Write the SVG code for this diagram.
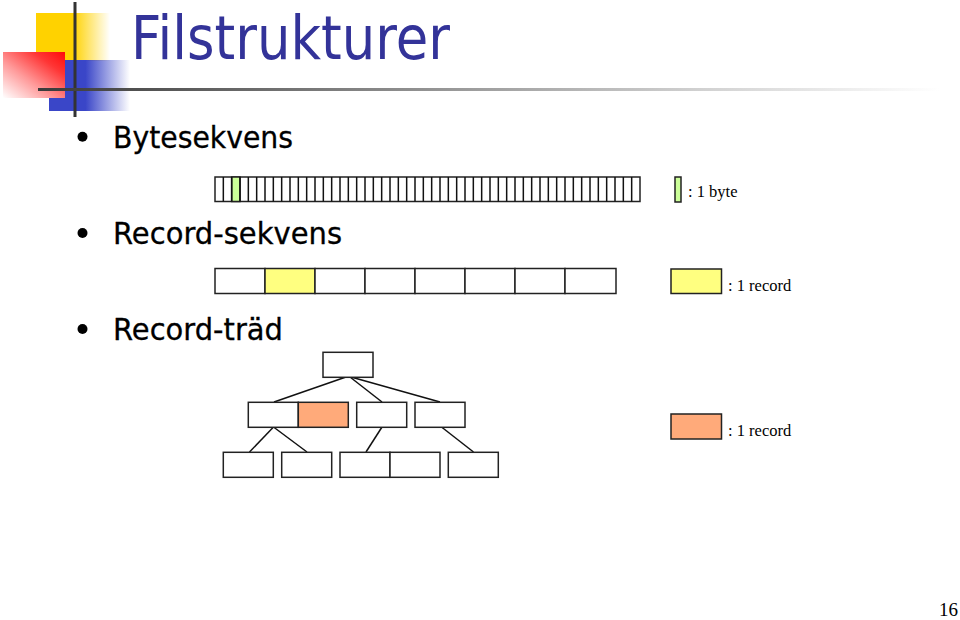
<svg xmlns="http://www.w3.org/2000/svg" width="960" height="620" viewBox="0 0 960 620">
<defs>
<linearGradient id="gYellow" x1="0" y1="0" x2="1" y2="0">
<stop offset="0" stop-color="#FFD200"/>
<stop offset="0.5" stop-color="#FFD200"/>
<stop offset="1" stop-color="#FFD200" stop-opacity="0"/>
</linearGradient>
<linearGradient id="gBlue" x1="0" y1="0" x2="1" y2="0">
<stop offset="0" stop-color="#3A46C8"/>
<stop offset="0.45" stop-color="#3A46C8"/>
<stop offset="1" stop-color="#3A46C8" stop-opacity="0"/>
</linearGradient>
<linearGradient id="gRed" x1="1" y1="0" x2="0" y2="1">
<stop offset="0" stop-color="#FF0A0A"/>
<stop offset="0.25" stop-color="#FF3535"/>
<stop offset="0.6" stop-color="#FF9A9A"/>
<stop offset="1" stop-color="#FFFFFF"/>
</linearGradient>
<linearGradient id="gLine" x1="0" y1="0" x2="1" y2="0">
<stop offset="0" stop-color="#3A3A3A"/>
<stop offset="0.4" stop-color="#8C8C8C"/>
<stop offset="0.73" stop-color="#D0D0D0"/>
<stop offset="1" stop-color="#FFFFFF"/>
</linearGradient>
<style>
.box{stroke:#222;stroke-width:1.5;fill:#fff}
.yel{fill:#FFFF80}
.ora{fill:#FFAA7A}
.grn{fill:#CCFF99}
.edge{stroke:#111;stroke-width:1.5;fill:none}
.bullet{font-family:"DejaVu Sans","Liberation Sans",sans-serif;font-size:30px;fill:#000;stroke:#000;stroke-width:0.3}
.legend{font-family:"Liberation Serif","Times New Roman",serif;font-size:16.5px;fill:#000}
</style>
</defs>
<rect width="960" height="620" fill="#fff"/>

<g id="logo">
<rect x="36" y="13" width="74" height="48" fill="url(#gYellow)"/>
<rect x="49" y="60" width="81" height="51" fill="url(#gBlue)"/>
<rect x="3" y="52" width="62" height="46" fill="url(#gRed)"/>
<rect x="73.5" y="2" width="3" height="115" fill="#333"/>
<rect x="38" y="88" width="902" height="3" fill="url(#gLine)"/>
</g>

<g id="title">
<text x="131" y="59" font-family="DejaVu Sans,Liberation Sans,sans-serif" font-size="61" fill="#333399" textLength="319" lengthAdjust="spacingAndGlyphs">Filstrukturer</text>
</g>

<g id="bullets">
<circle cx="82.5" cy="136.7" r="5"/>
<text class="bullet" x="113" y="147.5" textLength="180" lengthAdjust="spacingAndGlyphs">Bytesekvens</text>
<circle cx="82.5" cy="233" r="5"/>
<text class="bullet" x="113" y="243.5" textLength="229" lengthAdjust="spacingAndGlyphs">Record-sekvens</text>
<circle cx="82.5" cy="329" r="5"/>
<text class="bullet" x="113" y="339.5" textLength="170" lengthAdjust="spacingAndGlyphs">Record-träd</text>
</g>

<g id="byte-sequence">
<rect class="box" x="215" y="177" width="425" height="24.5"/>
<rect class="box grn" x="231.67" y="177" width="8.33" height="24.5"/>
<path class="edge" d="M223.33 177V201.5M231.67 177V201.5M240 177V201.5M248.33 177V201.5M256.67 177V201.5M265 177V201.5M273.33 177V201.5M281.67 177V201.5M290 177V201.5M298.33 177V201.5M306.67 177V201.5M315 177V201.5M323.33 177V201.5M331.67 177V201.5M340 177V201.5M348.33 177V201.5M356.67 177V201.5M365 177V201.5M373.33 177V201.5M381.67 177V201.5M390 177V201.5M398.33 177V201.5M406.67 177V201.5M415 177V201.5M423.33 177V201.5M431.67 177V201.5M440 177V201.5M448.33 177V201.5M456.67 177V201.5M465 177V201.5M473.33 177V201.5M481.67 177V201.5M490 177V201.5M498.33 177V201.5M506.67 177V201.5M515 177V201.5M523.33 177V201.5M531.67 177V201.5M540 177V201.5M548.33 177V201.5M556.67 177V201.5M565 177V201.5M573.33 177V201.5M581.67 177V201.5M590 177V201.5M598.33 177V201.5M606.67 177V201.5M615 177V201.5M623.33 177V201.5M631.67 177V201.5"/>
</g>

<g id="record-sequence">
<rect class="box" x="215" y="268.5" width="50" height="25"/>
<rect class="box yel" x="265" y="268.5" width="50" height="25"/>
<rect class="box" x="315" y="268.5" width="50" height="25"/>
<rect class="box" x="365" y="268.5" width="50" height="25"/>
<rect class="box" x="415" y="268.5" width="50" height="25"/>
<rect class="box" x="465" y="268.5" width="50" height="25"/>
<rect class="box" x="515" y="268.5" width="50" height="25"/>
<rect class="box" x="565" y="268.5" width="51" height="25"/>
</g>

<g id="connectors">
<line class="edge" x1="346" y1="377" x2="274" y2="402"/>
<line class="edge" x1="350" y1="377" x2="382" y2="402"/>
<line class="edge" x1="351" y1="377" x2="440" y2="402"/>
<line class="edge" x1="273.5" y1="427" x2="249.5" y2="452"/>
<line class="edge" x1="273.5" y1="427" x2="307" y2="452"/>
<line class="edge" x1="382" y1="427" x2="366" y2="452"/>
<line class="edge" x1="441.5" y1="427" x2="473.5" y2="452"/>
</g>

<g id="tree-root"><rect class="box" x="323" y="352.3" width="50" height="25"/></g>
<g id="tree-l2-a"><rect class="box" x="248.3" y="402.3" width="50" height="25"/><rect class="box ora" x="298.3" y="402.3" width="50" height="25"/></g>
<g id="tree-l2-b"><rect class="box" x="356.7" y="402.3" width="50" height="25"/></g>
<g id="tree-l2-c"><rect class="box" x="415" y="402.3" width="50" height="25"/></g>
<g id="tree-l3-a"><rect class="box" x="223.3" y="452.3" width="50" height="25"/></g>
<g id="tree-l3-b"><rect class="box" x="281.7" y="452.3" width="50" height="25"/></g>
<g id="tree-l3-c"><rect class="box" x="340" y="452.3" width="50" height="25"/><rect class="box" x="390" y="452.3" width="50" height="25"/></g>
<g id="tree-l3-d"><rect class="box" x="448.3" y="452.3" width="50" height="25"/></g>

<g id="legend-byte">
<rect class="box grn" x="675" y="177" width="6" height="25"/>
<text class="legend" x="688" y="197">: 1 byte</text>
</g>
<g id="legend-record">
<rect class="box yel" x="671" y="269" width="50.5" height="24.5"/>
<text class="legend" x="728" y="291">: 1 record</text>
</g>
<g id="legend-tree-record">
<rect class="box ora" x="671" y="414" width="50.5" height="25"/>
<text class="legend" x="728" y="436">: 1 record</text>
</g>

<text x="958" y="616" text-anchor="end" font-family="Liberation Serif,Times New Roman,serif" font-size="19" fill="#000">16</text>
</svg>
